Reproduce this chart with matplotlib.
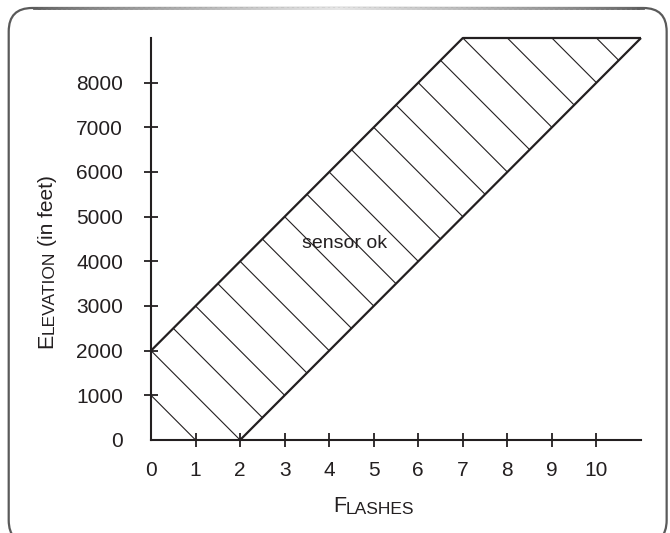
import numpy as np
import matplotlib
matplotlib.use("Agg")
import matplotlib.pyplot as plt
from matplotlib.patches import Polygon, FancyBboxPatch
from matplotlib.collections import LineCollection
import matplotlib.transforms as mtransforms

plt.rcParams['font.family'] = ['Liberation Sans', 'DejaVu Sans']

# region where the sensor is ok: upper and lower boundary
upper_x = [0, 7, 11]
upper_y = [2000, 9000, 9000]
lower_x = [2, 11]
lower_y = [0, 9000]

x_ticks = [0, 1, 2, 3, 4, 5, 6, 7, 8, 9, 10]
y_ticks = [0, 1000, 2000, 3000, 4000, 5000, 6000, 7000, 8000]
x_max = 11
y_max = 9000

region_label = "sensor ok"
label_x, label_y = 4.35, 4300

ink = '#231f20'

fig = plt.figure(figsize=(6.7, 5.33), dpi=100)

# rounded frame round the chart
frame = FancyBboxPatch((0.013, -0.02), 0.982, 1.005, boxstyle="round,pad=0,rounding_size=0.035",
                       transform=fig.transFigure, facecolor='white', edgecolor='#5a5a5a',
                       linewidth=1.6, mutation_aspect=670 / 533, zorder=-5)
fig.patches.append(frame)
# top edge fades to light grey in the middle
xs = np.linspace(0.05, 0.96, 120)
segs = [[(xs[i], 0.985), (xs[i + 1], 0.985)] for i in range(len(xs) - 1)]
mid = (xs[:-1] + xs[1:]) / 2
fade = 1 - np.abs(mid - 0.505) / 0.455
shade = 0.35 + 0.55 * np.clip(fade, 0, 1) ** 0.7
fig.add_artist(LineCollection(segs, colors=[(s, s, s) for s in shade], linewidths=2.0,
                              capstyle='projecting', transform=fig.transFigure, zorder=-4))

ax = fig.add_axes([0.2254, 0.1745, 0.7313, 0.7542])
ax.set_xlim(0, x_max)
ax.set_ylim(0, y_max)
ax.patch.set_alpha(0)

for s in ['top', 'right']:
    ax.spines[s].set_visible(False)
for s in ['left', 'bottom']:
    ax.spines[s].set_linewidth(1.5)
    ax.spines[s].set_color(ink)

# shaded region
poly_pts = [(0, 0)] + list(zip(upper_x, upper_y)) + list(zip(lower_x[::-1], lower_y[::-1]))
region = Polygon(poly_pts, closed=True, facecolor='none', edgecolor='none')
ax.add_patch(region)

# hatch lines: x + y/1000 = k
for k in range(1, 21):
    ln, = ax.plot([0, k], [k * 1000, 0], color=ink, lw=0.8)
    ln.set_clip_path(region)

ax.plot(upper_x, upper_y, color=ink, lw=1.6, clip_on=False, solid_capstyle='butt')
ax.plot(lower_x, lower_y, color=ink, lw=1.6, clip_on=False, solid_capstyle='butt')

ax.text(label_x, label_y, region_label, fontsize=14, color=ink, ha='center', va='baseline')

ax.set_xticks(x_ticks)
ax.set_yticks(y_ticks)
ax.tick_params(direction='inout', length=10, width=1.3, color=ink, labelcolor=ink, labelsize=15)
ax.tick_params(axis='x', pad=10)
ax.tick_params(axis='y', pad=15)
ax.xaxis.get_major_ticks()[0].tick1line.set_visible(False)
ax.yaxis.get_major_ticks()[0].tick1line.set_visible(False)

# axis titles in small caps
bx = mtransforms.blended_transform_factory(ax.transData, fig.transFigure)
t1 = ax.text(4.085, 0.0394, 'F', transform=bx, fontsize=15.5, color=ink, ha='left', va='baseline')
ax.annotate('LASHES', xy=(1, 0), xycoords=t1, fontsize=12.5, color=ink, ha='left', va='bottom')

by = mtransforms.blended_transform_factory(fig.transFigure, ax.transData)
t2 = ax.text(0.0776, 2060, 'E', transform=by, fontsize=15.5, color=ink, rotation=90,
             rotation_mode='anchor', ha='left', va='baseline')
t3 = ax.annotate('LEVATION', xy=(1, 1), xycoords=t2, fontsize=12.5, color=ink, rotation=90,
                 rotation_mode='anchor', ha='left', va='bottom')
ax.annotate('(in feet)', xy=(1, 1), xycoords=t3, xytext=(0, 3), textcoords='offset points',
            fontsize=15, color=ink, rotation=90, rotation_mode='anchor', ha='left', va='bottom')

fig.savefig('out.png', dpi=100)
